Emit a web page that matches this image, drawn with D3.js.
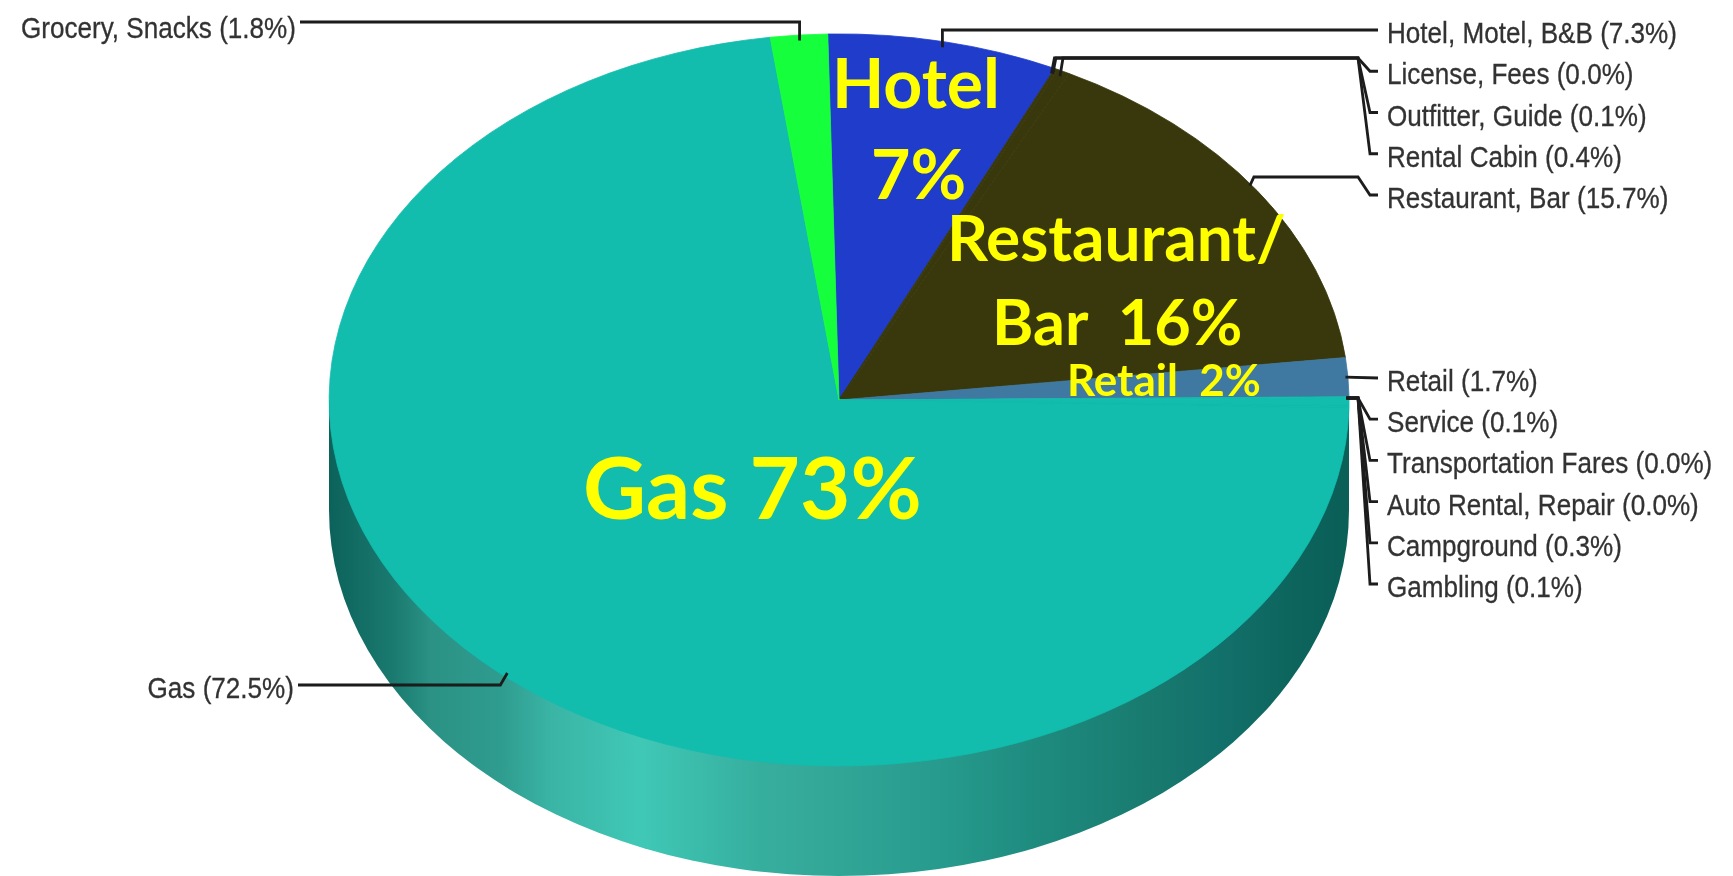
<!DOCTYPE html>
<html><head><meta charset="utf-8">
<style>html,body{margin:0;padding:0;background:#fff;overflow:hidden}svg{display:block}</style>
<script src="https://cdn.jsdelivr.net/npm/d3@7"></script></head>
<body><svg id="c" width="1733" height="876"></svg>
<script>
// slices, clockwise from the top of the pie
const categories = ["Hotel, Motel, B&B","License, Fees","Outfitter, Guide","Rental Cabin","Restaurant, Bar","Retail","Service","Transportation Fares","Auto Rental, Repair","Campground","Gambling","Gas","Grocery, Snacks"];
const shares = [7.3,0.0,0.1,0.4,15.7,1.7,0.1,0.0,0.0,0.3,0.1,72.5,1.8];
const sliceColors = ["#1f3ccb","#39380c","#39380c","#39380c","#39380c","#3f78a0","#12bdad","#12bdad","#12bdad","#12bdad","#12bdad","#12bdad","#16ff3c"];
const topRightRows = ["Hotel, Motel, B&B","License, Fees","Outfitter, Guide","Rental Cabin","Restaurant, Bar"];
const lowerRightRows = ["Retail","Service","Transportation Fares","Auto Rental, Repair","Campground","Gambling"];
const bigLabels = ["Hotel","7%","Restaurant/","Bar  16%","Retail  2%","Gas 73%"];
const bigLabelSizes = [68,68,64,63,44,87];
const bigLabelX = [832,871,947,992,1067,583];
const bigLabelBase = [108,199,261,345,396,519];
const wallStops = [[0,"#0c625a"],[0.063,"#1a7a70"],[0.10,"#2b9285"],[0.168,"#2e9c8f"],[0.217,"#3ab4a5"],[0.305,"#40c8b6"],[0.423,"#36ae9e"],[0.462,"#35aa9b"],[0.612,"#25998b"],[0.687,"#1f8c80"],[0.80,"#197b70"],[0.875,"#12706a"],[0.95,"#0c645c"],[1,"#0a5f57"]];

const cx=839, cy=400, rx=510, ry=366, depth=110, start=-0.022;
const svg=d3.select("#c");
const defs=svg.append("defs");
const grad=defs.append("linearGradient").attr("id","wall").attr("gradientUnits","userSpaceOnUse")
  .attr("x1",cx-rx).attr("x2",cx+rx).attr("y1",0).attr("y2",0);
grad.selectAll("stop").data(wallStops).join("stop").attr("offset",d=>d[0]).attr("stop-color",d=>d[1]);
defs.append("filter").attr("id","soft").attr("filterUnits","userSpaceOnUse").attr("x",0).attr("y",0).attr("width",1733).attr("height",876)
  .append("feGaussianBlur").attr("stdDeviation",0.7);
defs.append("filter").attr("id","softl").attr("filterUnits","userSpaceOnUse").attr("x",0).attr("y",0).attr("width",1733).attr("height",876)
  .append("feGaussianBlur").attr("stdDeviation",0.6);

// side wall
svg.append("path").attr("fill","url(#wall)")
  .attr("d",`M${cx-rx},${cy}L${cx-rx},${cy+depth}A${rx},${ry} 0 0 0 ${cx+rx},${cy+depth}L${cx+rx},${cy}Z`);

// top face
const data=categories.map((c,i)=>({c,v:shares[i],col:sliceColors[i]}));
const pie=d3.pie().sort(null).value(d=>d.v).startAngle(start).endAngle(start+2*Math.PI);
const arcs=pie(data);
const arc=d3.arc().innerRadius(0).outerRadius(1);
svg.append("g").attr("transform",`translate(${cx},${cy}) scale(${rx},${ry})`)
  .selectAll("path").data(arcs.filter(a=>a.value>0)).join("path").attr("d",arc).attr("fill",d=>d.data.col)
  .attr("stroke",d=>d.data.col).attr("stroke-width",0.8).attr("vector-effect","non-scaling-stroke");

// leader lines
const anchor=(name,r=0.985)=>{const a=arcs.find(d=>d.data.c===name);const t=(a.startAngle+a.endAngle)/2;
  return [cx+r*rx*Math.sin(t),cy-r*ry*Math.cos(t)];};
const share=n=>shares[categories.indexOf(n)].toFixed(1);
const topY=d3.scalePoint().domain(topRightRows).range([30,195]);
const lowY=d3.scalePoint().domain(lowerRightRows).range([378,584]);
const line=d3.line();
const leaders=svg.append("g").attr("fill","none").attr("stroke","#1c1c1c").attr("stroke-width",2.8).attr("filter","url(#softl)");
const draw=pts=>leaders.append("path").attr("d",line(pts));
const xElbow=1358,xKink=1370,xEnd=1378,xText=1387;
let p=anchor("Hotel, Motel, B&B"); draw([p,[p[0],topY("Hotel, Motel, B&B")],[xEnd,topY("Hotel, Motel, B&B")]]);
const groupY=58;
["License, Fees","Outfitter, Guide","Rental Cabin"].forEach(n=>{p=anchor(n);
  draw([p,[p[0]+3,groupY],[xElbow,groupY],[xKink,topY(n)],[xEnd,topY(n)]]);});
p=anchor("Restaurant, Bar"); draw([[p[0]-1,p[1]-8],[p[0]+3,177],[xElbow,177],[xKink,topY("Restaurant, Bar")],[xEnd,topY("Restaurant, Bar")]]);
p=anchor("Retail",0.995); draw([p,[xEnd,lowY("Retail")]]);
const lowGroupY=398;
lowerRightRows.slice(1).forEach(n=>{p=anchor(n,0.995);
  draw([[p[0],lowGroupY],[xElbow,lowGroupY],[xKink,lowY(n)],[xEnd,lowY(n)]]);});
const grocY=22, gasY=685;
p=anchor("Grocery, Snacks"); draw([p,[p[0],grocY],[300,grocY]]);
p=anchor("Gas",1.0); draw([[p[0]+8,p[1]],[p[0]+1,gasY],[298,gasY]]);

// outside labels
const labels=svg.append("g").attr("font-family","'Liberation Sans',Arial,sans-serif").attr("font-size",29).attr("fill","#333").attr("stroke","#333").attr("stroke-width",0.3).attr("filter","url(#soft)");
const hScale=0.9;
const put=(txt,x,y,anchorTo)=>labels.append("text").attr("transform",`translate(${x},${y+10}) scale(${hScale},1)`).attr("text-anchor",anchorTo).text(txt);
topRightRows.forEach(n=>put(`${n} (${share(n)}%)`,xText,topY(n)+3,"start"));
lowerRightRows.forEach(n=>put(`${n} (${share(n)}%)`,xText,lowY(n)+3,"start"));
put(`Grocery, Snacks (${share("Grocery, Snacks")}%)`,296,grocY+6,"end");
put(`Gas (${share("Gas")}%)`,294,gasY+3,"end");

// overlaid yellow labels
svg.append("g").attr("font-family","Lato,Carlito,sans-serif").attr("font-weight",700).attr("fill","#ffff00")
  .selectAll("text").data(bigLabels).join("text").style("white-space","pre")
  .attr("x",(d,i)=>bigLabelX[i]).attr("y",(d,i)=>bigLabelBase[i]).attr("font-size",(d,i)=>bigLabelSizes[i]).text(d=>d);
</script></body></html>
